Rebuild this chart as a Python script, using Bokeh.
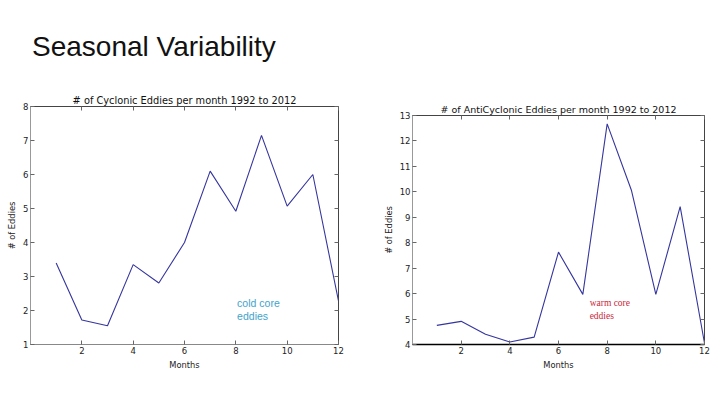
from bokeh.plotting import figure
from bokeh.models import Div, Label, FixedTicker, LinearAxis, Range1d, Spacer
from bokeh.layouts import column, row
from bokeh.embed import file_html
from bokeh.resources import INLINE

# ---- data ----
page_title = "Seasonal Variability"
months = [1, 2, 3, 4, 5, 6, 7, 8, 9, 10, 11, 12]
cyclonic = [3.40, 1.72, 1.55, 3.35, 2.81, 4.00, 6.10, 4.92, 7.15, 5.07, 6.00, 2.28]
anticyclonic = [4.75, 4.91, 4.40, 4.10, 4.29, 7.63, 5.97, 12.67, 10.05, 5.97, 9.42, 4.05]
x_ticks = [2, 4, 6, 8, 10, 12]
cyc_y_ticks = [1, 2, 3, 4, 5, 6, 7, 8]
anti_y_ticks = [4, 5, 6, 7, 8, 9, 10, 11, 12, 13]
cyc_title = "# of Cyclonic Eddies per month 1992 to 2012"
anti_title = "# of AntiCyclonic Eddies per month 1992 to 2012"
x_label = "Months"
y_label = "# of Eddies"
cyc_note = ["cold core", "eddies"]
anti_note = ["warm core", "eddies"]

LINE = "#35359f"
FONT = "DejaVu Sans"


def inner_axis(ticks):
    return LinearAxis(ticker=FixedTicker(ticks=ticks), major_tick_in=4, major_tick_out=0,
                      minor_tick_line_color=None, axis_line_color=None,
                      major_tick_line_color="#666666",
                      major_label_overrides={t: "" for t in ticks},
                      major_label_standoff=0)


def make_fig(width, yr, yticks, title, tsize, bl, br, bt, bb, bottom_color, bottom_w):
    p = figure(width=width, height=310, x_range=Range1d(0, 12), y_range=Range1d(*yr),
               output_backend="svg", toolbar_location=None,
               min_border_left=bl, min_border_right=br, min_border_top=bt, min_border_bottom=bb)
    p.title.text = title
    p.title.align = "center"
    p.title.text_font = FONT
    p.title.text_font_style = "normal"
    p.title.text_font_size = tsize
    p.title.text_color = "#111111"
    p.title.standoff = 2
    p.xgrid.visible = False
    p.ygrid.visible = False
    p.outline_line_color = "#444444"
    p.outline_line_width = 1
    p.background_fill_color = "white"
    p.border_fill_color = "white"
    p.xaxis.ticker = FixedTicker(ticks=x_ticks)
    p.yaxis.ticker = FixedTicker(ticks=yticks)
    for ax in (p.xaxis[0], p.yaxis[0]):
        ax.major_tick_in = 4
        ax.major_tick_out = 0
        ax.minor_tick_line_color = None
        ax.major_tick_line_color = "#666666"
        ax.major_label_text_font = FONT
        ax.major_label_text_font_size = "8.5px"
        ax.major_label_text_color = "#222222"
        ax.axis_label_text_font = FONT
        ax.axis_label_text_font_size = "8.3px"
        ax.axis_label_text_font_style = "normal"
        ax.axis_label_text_color = "#222222"
        ax.major_label_standoff = 2
        ax.axis_label_standoff = 3
    p.xaxis.axis_label = x_label
    p.yaxis.axis_label = y_label
    p.xaxis.axis_line_color = bottom_color
    p.xaxis.axis_line_width = bottom_w
    p.yaxis.axis_line_color = "#999999"
    p.add_layout(inner_axis(yticks), "right")
    p.add_layout(inner_axis(x_ticks), "above")
    return p


p1 = make_fig(380, (1, 8), cyc_y_ticks, cyc_title, "9.8px", 30, 42, 36, 36, "#888888", 1)
p1.line(months, cyclonic, line_color=LINE, line_width=1.1)
p1.add_layout(Label(x=8.05, y=2.21, text=cyc_note[0], text_font="Liberation Sans",
                    text_font_size="10.5px", text_color="#3ea3cc", text_baseline="middle"))
p1.add_layout(Label(x=8.05, y=1.83, text=cyc_note[1], text_font="Liberation Sans",
                    text_font_size="10.5px", text_color="#3ea3cc", text_baseline="middle"))

p2 = make_fig(340, (4, 13), anti_y_ticks, anti_title, "9.5px", 29, 16, 45, 36, "black", 1.6)
p2.line(months, anticyclonic, line_color=LINE, line_width=1.1)
p2.add_layout(Label(x=7.28, y=5.62, text=anti_note[0], text_font="Liberation Serif",
                    text_font_size="9.5px", text_color="#c8283a", text_baseline="middle"))
p2.add_layout(Label(x=7.28, y=5.13, text=anti_note[1], text_font="Liberation Serif",
                    text_font_size="9.5px", text_color="#c8283a", text_baseline="middle"))

head = Div(text='<div style="font-family:\'Liberation Sans\';font-size:28px;line-height:32px;'
                'color:#111;padding:31px 0 0 32px;margin:0">' + page_title + '</div>',
           width=720, height=70, margin=(0, 0, 0, 0))

layout = column(head, row(column(p1), column(p2), spacing=0), spacing=0)

open("out.html", "w").write(file_html(layout, INLINE))
